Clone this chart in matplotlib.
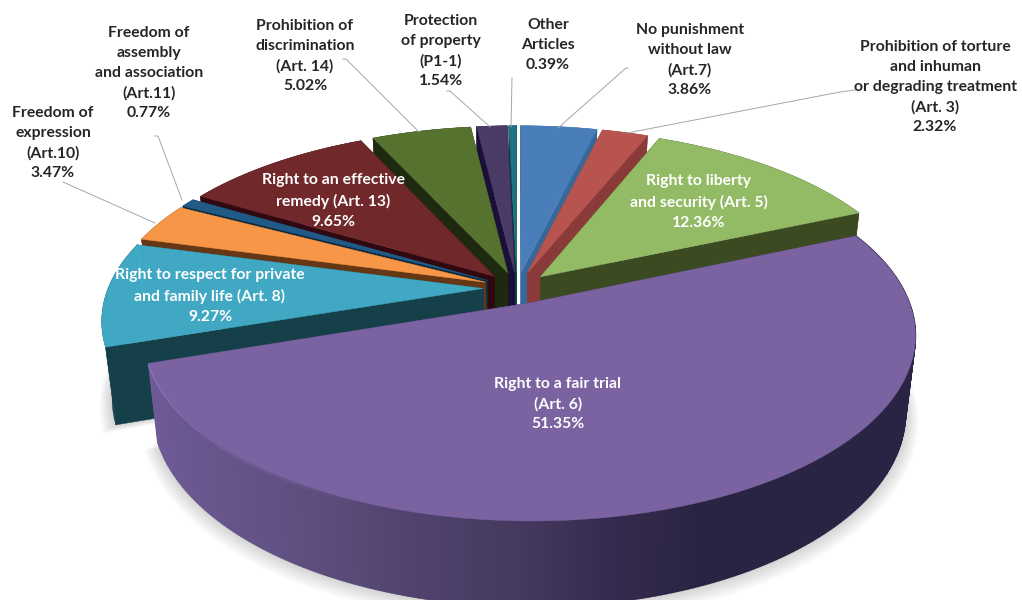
import matplotlib
matplotlib.use('Agg')
import matplotlib.pyplot as plt
from matplotlib.colors import to_rgb
from matplotlib.patches import Polygon
import numpy as np

plt.rcParams['font.family'] = ['Lato', 'DejaVu Sans']

# slices clockwise from 12 o'clock
values = [3.86, 2.32, 12.36, 51.35, 9.27, 3.47, 0.77, 9.65, 5.02, 1.54, 0.39]
labels = ['No punishment\nwithout law\n(Art.7)',
          'Prohibition of torture\nand inhuman\nor degrading treatment\n(Art. 3)',
          'Right to liberty\nand security (Art. 5)',
          'Right to a fair trial\n(Art. 6)',
          'Right to respect for private\nand family life (Art. 8)',
          'Freedom of\nexpression\n(Art.10)',
          'Freedom of\nassembly\nand association\n(Art.11)',
          'Right to an effective\nremedy (Art. 13)',
          'Prohibition of\ndiscrimination\n(Art. 14)',
          'Protection\nof property\n(P1-1)',
          'Other\nArticles']
top_colors = ['#4a7ebb', '#b85450', '#93bb66', '#7a63a0', '#40a8c2', '#f79646',
              '#215a86', '#70282a', '#56722f', '#4a3a66', '#1f7282']
side_colors = ['#37689a', '#8a3a38', '#3c4a22', '#3a3060', '#154049', '#653714',
               '#0e2a40', '#2f0810', '#1d2a10', '#1a0f38', '#0d3a44']
label_x = [690, 935, 699, 558, 210, 53, 149, 333, 305, 441, 548]
label_y = [60, 87, 202, 404, 296, 143, 73, 201, 56, 51, 45]
label_white = [False, False, True, True, True, False, False, True, False, False, False]
leaders = [[(628, 68), (626, 68), (558, 128)],
           [(855, 90), (840, 92), (627, 133)],
           None, None, None,
           [(63, 182), (155, 223)],
           [(155, 136), (158, 136), (182, 200)],
           None,
           [(343, 59), (346, 59), (419, 132)],
           [(447, 91), (450, 91), (490, 127)],
           [(512, 78), (511, 127)]]

# side shading of the big slice, read along x
fair_x = [147, 300, 400, 520, 620, 700, 915]
fair_side = ['#6f5a96', '#5f4f80', '#524470', '#45395f', '#352a4d', '#2a2444', '#2a2444']

CX, CY = 517, 288
RX, RY = 375, 176
PERSP = 0.167
DEPTH = 75
EXPLODE = 0.09


def project(u, v, h=0.0):
    w = 1 + PERSP * v
    s = 1 - 0.025 * h
    return CX + RX * u / w * s, CY - RY * v / w * s + DEPTH * h / w


def arc(a0, a1, off, h=0.0, n=80, r=1.0):
    t = np.radians(np.linspace(a0, a1, n))
    x, y = project(r * np.cos(t) + off[0], r * np.sin(t) + off[1], h)
    return np.column_stack([x, y])


fig = plt.figure(figsize=(10.22, 6), dpi=100)
ax = fig.add_axes([0, 0, 1, 1])
ax.set_xlim(0, 1022)
ax.set_ylim(600, 0)
ax.axis('off')

ends = 90 - np.cumsum(values) * 3.6
starts = np.r_[90, ends[:-1]]
mids = (starts + ends) / 2
offs = [(EXPLODE * np.cos(np.radians(m)), EXPLODE * np.sin(np.radians(m))) for m in mids]

# soft shadow under the front slices
for i in [3, 4]:
    for k in range(1, 8):
        tip = project(offs[i][0], offs[i][1], 1)
        shape = np.vstack([[tip], arc(starts[i], ends[i], offs[i], 1 + k * 0.012, r=1 + k * 0.005)])
        ax.add_patch(Polygon(shape, closed=True, fc='black', ec='none', alpha=0.025))

# back to front
order = np.argsort(-np.sin(np.radians(mids)))
c_fair = np.array([to_rgb(q) for q in fair_side])
for i in order:
    a0, a1, off = starts[i], ends[i], offs[i]
    tip_t = project(off[0], off[1], 0)
    tip_b = project(off[0], off[1], 1)
    for a in (a0, a1):
        p_t = arc(a, a, off, 0, 1)[0]
        p_b = arc(a, a, off, 1, 1)[0]
        ax.add_patch(Polygon([tip_t, p_t, p_b, tip_b], closed=True, fc=side_colors[i], ec=side_colors[i], lw=0.3))
    if i == 3:
        # outer wall of the big slice in strips
        pts_t = arc(a0, a1, off, 0, 241)
        pts_b = arc(a0, a1, off, 1, 241)
        for j in range(240):
            col = [np.interp(pts_t[j, 0], fair_x, c_fair[:, k]) for k in range(3)]
            ax.add_patch(Polygon([pts_t[j], pts_t[j + 1], pts_b[j + 1], pts_b[j]], closed=True, fc=col, ec=col, lw=1.0))
    else:
        pts_t = arc(a0, a1, off, 0)
        pts_b = arc(a0, a1, off, 1)
        ax.add_patch(Polygon(np.vstack([pts_t, pts_b[::-1]]), closed=True, fc=side_colors[i], ec=side_colors[i], lw=0.3))
    ax.add_patch(Polygon(np.vstack([[tip_t], arc(a0, a1, off, 0)]), closed=True, fc=top_colors[i], ec=top_colors[i], lw=0.3))
    if i == 3:
        # lit rim on the lower left of the big slice, fading out
        rim = arc(a1, a1 + 50, off, 0.02, 41)
        for j in range(40):
            ax.plot(rim[j:j + 2, 0], rim[j:j + 2, 1], color='#8a72b2', lw=1.2, alpha=1 - j / 40, solid_capstyle='butt')
    if i == 4:
        # cyan edge on the outer corner
        edge = np.vstack([arc(a1, a1, off, 0, 1), arc(a1, a1, off, 0.7, 1)])
        ax.plot(edge[:, 0], edge[:, 1], color='#3fb0cc', lw=1.0)

for seg in leaders:
    if seg:
        ax.plot([p[0] for p in seg], [p[1] for p in seg], color='#a6a6a6', lw=0.7)

for i in range(len(values)):
    txt = labels[i] + '\n' + ('%.2f%%' % values[i])
    ax.text(label_x[i], label_y[i], txt, ha='center', va='center', fontsize=11.3, fontweight='bold',
            linespacing=1.54, color='white' if label_white[i] else '#262626')

plt.savefig('out.png', dpi=100)
